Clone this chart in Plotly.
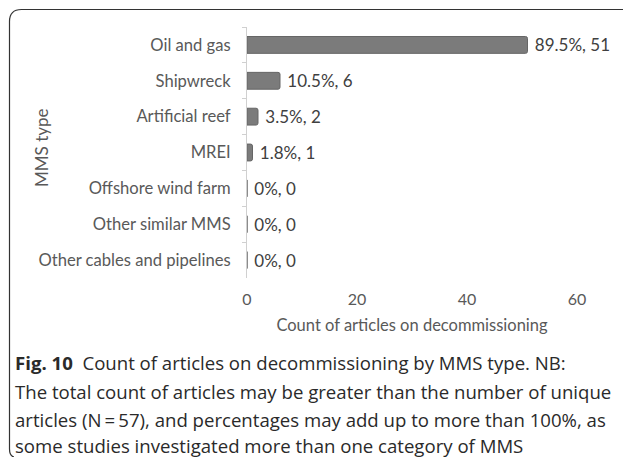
import plotly.graph_objects as go

categories = ["Oil and gas", "Shipwreck", "Artificial reef", "MREI",
              "Offshore wind farm", "Other similar MMS", "Other cables and pipelines"]
counts = [51, 6, 2, 1, 0, 0, 0]
percents = ["89.5%", "10.5%", "3.5%", "1.8%", "0%", "0%", "0%"]
x_ticks = [0, 20, 40, 60]

labels = [f" {p}, {c}" for p, c in zip(percents, counts)]

W, H = 623, 457
L, R, T, B = 247, 46, 27, 179
PW, PH = W - L - R, H - T - B

def px(x):
    return (x - L) / PW

def py(y):
    return (H - B - y) / PH

fig = go.Figure()
fig.add_trace(go.Bar(
    x=counts, y=categories, orientation="h",
    marker=dict(color="#7b7b7b", line=dict(color="#666666", width=1), cornerradius=2),
    width=0.47,
    text=labels, textposition="outside", cliponaxis=False, constraintext="none",
    textfont=dict(family="Lato", size=17, color="#404040"),
    hoverinfo="skip",
))

fig.update_layout(
    width=W, height=H,
    margin=dict(l=L, r=R, t=T, b=B, pad=0),
    paper_bgcolor="white", plot_bgcolor="white",
    showlegend=False,
    font=dict(family="Lato", size=16, color="#595959"),
    xaxis=dict(range=[0, 60], tickvals=x_ticks, showgrid=False, zeroline=False,
               showline=False, ticks="", ticklabelstandoff=10,
               tickfont=dict(size=16, color="#595959"),
               title=dict(text="Count of articles on decommissioning",
                          font=dict(size=16.5, color="#595959"), standoff=12)),
    yaxis=dict(categoryorder="array", categoryarray=categories, autorange="reversed",
               showgrid=False, zeroline=False, showline=True, linecolor="#d0d0d0",
               linewidth=1, ticks="outside", tickson="boundaries", ticklen=4,
               tickcolor="#d0d0d0", ticklabelstandoff=12,
               tickfont=dict(size=16.6, color="#595959")),
)

fig.add_annotation(text="MMS type", xref="paper", yref="paper", x=px(41), y=py(148),
                   textangle=-90, showarrow=False, xanchor="center", yanchor="middle",
                   font=dict(family="Lato", size=17, color="#595959"))

caption = [
    "<b>Fig. 10</b>  Count of articles on decommissioning by MMS type. NB:",
    "The total count of articles may be greater than the number of unique",
    "articles (N\u2009=\u200957), and percentages may add up to more than 100%, as",
    "some studies investigated more than one category of MMS",
]
cap_y = [362, 391, 419, 446]
for line, yy in zip(caption, cap_y):
    fig.add_annotation(text=line, xref="paper", yref="paper", x=px(14), y=py(yy),
                       xanchor="left", yanchor="middle", showarrow=False, borderpad=0,
                       font=dict(family="Open Sans", size=18.6, color="#2a2a2a"))

r = 12
path = (f"M {px(14)},{py(457)} Q {px(9.5)},{py(456)} {px(9.5)},{py(449)} "
        f"L {px(9.5)},{py(9.5 + r)} "
        f"Q {px(9.5)},{py(9.5)} {px(9.5 + r)},{py(9.5)} L {px(623)},{py(9.5)}")
fig.add_shape(type="path", xref="paper", yref="paper", path=path,
              line=dict(color="#333333", width=1.2))

fig.write_html("out.html", config={"displayModeBar": False},
               post_script="document.body.style.margin='0';document.body.style.padding='0';"
                           "document.body.style.overflow='hidden';")
